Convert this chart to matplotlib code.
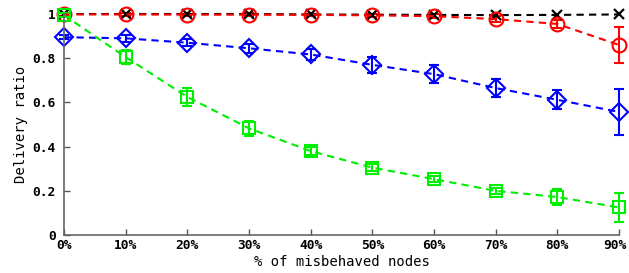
import numpy as np
import matplotlib
matplotlib.use('Agg')
import matplotlib.pyplot as plt
import matplotlib.transforms as mtransforms

x = [0, 10, 20, 30, 40, 50, 60, 70, 80, 90]
xlabels = ['0%', '10%', '20%', '30%', '40%', '50%', '60%', '70%', '80%', '90%']

black = [1.0, 1.0, 1.0, 1.0, 0.998, 0.997, 0.996, 0.995, 0.996, 0.998]

red = [0.998, 0.998, 0.997, 0.997, 0.996, 0.994, 0.99, 0.977, 0.955, 0.86]
red_err = [0.005, 0.005, 0.005, 0.006, 0.006, 0.008, 0.01, 0.015, 0.02, 0.08]

blue = [0.895, 0.89, 0.87, 0.845, 0.817, 0.77, 0.728, 0.665, 0.612, 0.557]
blue_err = [0.01, 0.015, 0.015, 0.02, 0.025, 0.035, 0.04, 0.042, 0.042, 0.105]

green = [0.995, 0.805, 0.625, 0.483, 0.38, 0.305, 0.253, 0.2, 0.172, 0.125]
green_err = [0.01, 0.03, 0.04, 0.035, 0.02, 0.015, 0.015, 0.015, 0.035, 0.065]

plt.rcParams['font.family'] = ['DejaVu Sans Mono']
plt.rcParams['font.weight'] = 'bold'

fig = plt.figure(figsize=(6.29, 2.73), dpi=100)
ax = fig.add_axes([0.1017, 0.139, 0.8823, 0.8097])

kw = dict(linestyle='--', lw=1.5, markerfacecolor='none', mew=1.5,
          capsize=3.5, elinewidth=1.5, capthick=1.5, clip_on=False, dashes=(3.5, 2.5))

ax.errorbar(x, red, yerr=red_err, color='red', marker='o', ms=10, **kw)
ax.plot(x, black, color='black', linestyle='--', lw=1.5, dashes=(3.5, 2.5),
        marker='x', ms=7, mew=1.6, clip_on=False)
ax.errorbar(x, blue, yerr=blue_err, color='blue', marker='D', ms=9, **kw)
ax.errorbar(x, green, yerr=green_err, color='#00ee00', marker='s', ms=8.5, **kw)

ax.set_xlim(0, 90)
ax.set_ylim(0, 1)
ax.set_xticks(x)
ax.set_xticklabels(xlabels)
ax.set_yticks([0, 0.2, 0.4, 0.6, 0.8, 1])
ax.set_yticklabels(['0', '0.2', '0.4', '0.6', '0.8', '1'])
ax.tick_params(direction='in', length=4, width=1, color='#555555', labelsize=9.3)
ax.tick_params(axis='y', pad=6)
ax.tick_params(axis='x', pad=3)
for s in ['top', 'right']:
    ax.spines[s].set_visible(False)
for s in ['left', 'bottom']:
    ax.spines[s].set_color('#666666')
    ax.spines[s].set_linewidth(1.2)

# keep the last tick label inside the image
last = ax.get_xticklabels()[-1]
last.set_transform(last.get_transform() +
                   mtransforms.ScaledTranslation(-3 / 72, 0, fig.dpi_scale_trans))

ax.set_xlabel('% of misbehaved nodes', fontsize=10, labelpad=2)
ax.set_ylabel('Delivery ratio', fontsize=10, labelpad=3)

fig.savefig('out.png', dpi=100)
